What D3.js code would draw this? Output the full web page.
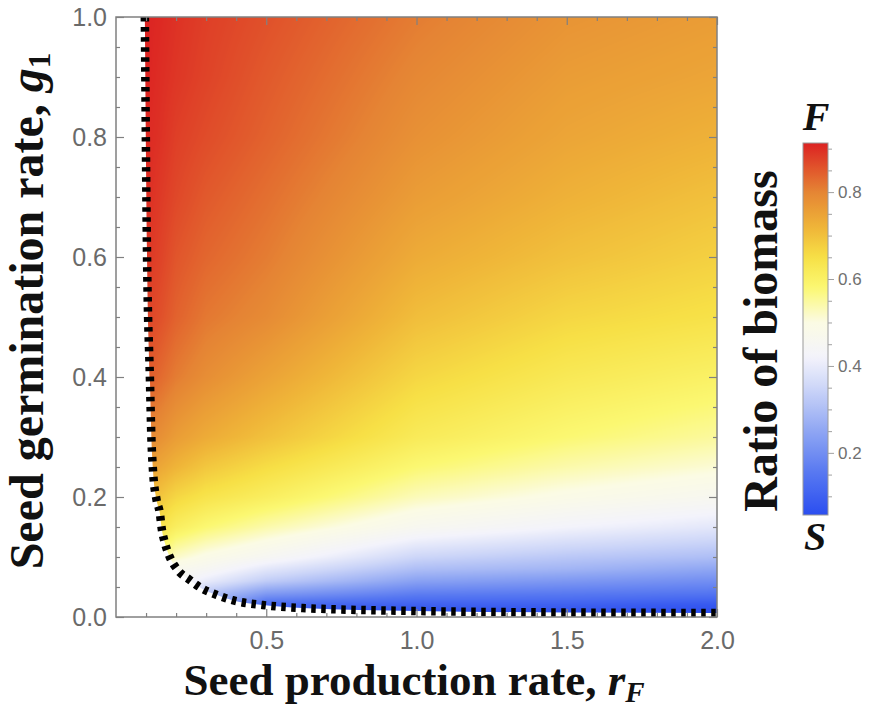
<!DOCTYPE html>
<html><head><meta charset="utf-8">
<script src="https://cdn.jsdelivr.net/npm/d3@7"></script>
<style>
  body { margin: 0; background: #fff; }
  svg { display: block; }
</style>
</head><body>
<svg id="chart" width="872" height="708"></svg>
<script>
// Grid of the biomass ratio: columns are seed production rate r_F, rows are germination rate g1
const rValues = [0.1, 0.15, 0.2, 0.3, 0.5, 1.0, 1.5, 2.0];
const gValues = [0, 0.02, 0.04, 0.06, 0.08, 0.1, 0.15, 0.2, 0.25, 0.3, 0.4, 0.5, 0.6, 0.7, 0.8, 0.9, 1.0];
const ratio = [
  [0.55, 0.50, 0.40, 0.25, 0.05, 0.05, 0.05, 0.05],
  [0.55, 0.50, 0.42, 0.28, 0.12, 0.10, 0.10, 0.08],
  [0.55, 0.50, 0.44, 0.32, 0.23, 0.17, 0.16, 0.15],
  [0.57, 0.52, 0.45, 0.40, 0.33, 0.24, 0.22, 0.20],
  [0.58, 0.53, 0.47, 0.45, 0.39, 0.30, 0.28, 0.25],
  [0.61, 0.57, 0.52, 0.49, 0.45, 0.35, 0.32, 0.30],
  [0.67, 0.64, 0.61, 0.58, 0.54, 0.46, 0.42, 0.39],
  [0.72, 0.69, 0.665, 0.64, 0.61, 0.53, 0.49, 0.46],
  [0.76, 0.74, 0.72, 0.69, 0.655, 0.58, 0.54, 0.51],
  [0.80, 0.78, 0.76, 0.735, 0.70, 0.62, 0.58, 0.55],
  [0.85, 0.83, 0.81, 0.785, 0.75, 0.665, 0.625, 0.60],
  [0.875, 0.86, 0.84, 0.815, 0.79, 0.705, 0.665, 0.645],
  [0.89, 0.875, 0.855, 0.835, 0.81, 0.735, 0.70, 0.675],
  [0.90, 0.885, 0.87, 0.85, 0.825, 0.76, 0.725, 0.70],
  [0.905, 0.895, 0.88, 0.865, 0.84, 0.78, 0.745, 0.725],
  [0.91, 0.90, 0.89, 0.875, 0.85, 0.795, 0.76, 0.745],
  [0.91, 0.905, 0.895, 0.88, 0.86, 0.81, 0.775, 0.76]
];

// Coexistence boundary (r_F, g1): below/left of it the fast species cannot persist
const boundaryR = [0.096, 0.103, 0.113, 0.118, 0.123, 0.135, 0.146, 0.152, 0.163, 0.179, 0.206, 0.245, 0.284, 0.334, 0.388, 0.488, 0.62, 1.0, 1.5, 2.0];
const boundaryG = [1.0, 0.612, 0.395, 0.295, 0.245, 0.195, 0.173, 0.148, 0.123, 0.100, 0.078, 0.062, 0.048, 0.037, 0.028, 0.020, 0.015, 0.010, 0.0075, 0.0067];

// Colour bar
const colorStops = [0.057, 0.15, 0.25, 0.35, 0.42, 0.5, 0.58, 0.65, 0.72, 0.8, 0.913];
const colorHex = ["#2b4ef0", "#5576f1", "#8fa6f3", "#cdd6f8", "#f3f3fb", "#fbfbe4", "#fbf872", "#f7e046", "#efb438", "#e58534", "#dc2222"];
const barTicks = [0.2, 0.4, 0.6, 0.8];

// Axis ticks
const xMajor = [0.5, 1.0, 1.5, 2.0];
const yMajor = [0, 0.2, 0.4, 0.6, 0.8, 1.0];

const svg = d3.select("#chart");
const plotL = 116, plotR = 717, plotT = 17, plotB = 617;
const x = d3.scaleLinear().domain([0, 2]).range([plotL, plotR]);
const y = d3.scaleLinear().domain([0, 1]).range([plotB, plotT]);

const color = d3.scaleLinear().domain(colorStops).range(colorHex)
  .interpolate(d3.interpolateRgb).clamp(true);

// ---- heat map raster ----
function valueAt(r, g) {
  r = Math.max(rValues[0], Math.min(rValues[rValues.length - 1], r));
  g = Math.max(gValues[0], Math.min(gValues[gValues.length - 1], g));
  const j = Math.min(Math.max(d3.bisectRight(rValues, r) - 1, 0), rValues.length - 2);
  const i = Math.min(Math.max(d3.bisectRight(gValues, g) - 1, 0), gValues.length - 2);
  const tx = (r - rValues[j]) / (rValues[j + 1] - rValues[j]);
  const ty = (g - gValues[i]) / (gValues[i + 1] - gValues[i]);
  const a = ratio[i][j] * (1 - tx) + ratio[i][j + 1] * tx;
  const b = ratio[i + 1][j] * (1 - tx) + ratio[i + 1][j + 1] * tx;
  return a * (1 - ty) + b * ty;
}

const W = plotR - plotL, H = plotB - plotT;
const v0 = colorStops[0], v1 = colorStops[colorStops.length - 1];
const canvas = document.createElement("canvas");
canvas.width = W; canvas.height = H;
const ctx = canvas.getContext("2d");
const img = ctx.createImageData(W, H);
const lut = d3.range(1024).map(k => {
  const c = d3.color(color(v0 + (v1 - v0) * k / 1023));
  return [c.r, c.g, c.b];
});
for (let py = 0; py < H; py++) {
  const g = y.invert(plotT + py + 0.5);
  for (let px = 0; px < W; px++) {
    const r = x.invert(plotL + px + 0.5);
    const v = valueAt(r, g);
    const k = Math.max(0, Math.min(1023, Math.round((v - v0) / (v1 - v0) * 1023)));
    const o = (py * W + px) * 4;
    img.data[o] = lut[k][0]; img.data[o + 1] = lut[k][1]; img.data[o + 2] = lut[k][2]; img.data[o + 3] = 255;
  }
}
ctx.putImageData(img, 0, 0);

const boundary = boundaryR.map((r, i) => [r, boundaryG[i]]);
const line = d3.line().x(d => x(d[0])).y(d => y(d[1])).curve(d3.curveMonotoneX);

const defs = svg.append("defs");
defs.append("clipPath").attr("id", "region")
  .append("path")
  .attr("d", line(boundary) + `L${x(2)},${y(1)}Z`);

svg.append("image")
  .attr("x", plotL).attr("y", plotT).attr("width", W).attr("height", H)
  .attr("preserveAspectRatio", "none")
  .attr("href", canvas.toDataURL())
  .attr("clip-path", "url(#region)");

// boundary curve
svg.append("path")
  .attr("d", line(boundary))
  .attr("fill", "none")
  .attr("stroke", "#000")
  .attr("stroke-width", 8.5)
  .attr("stroke-dasharray", "4.5 5.5");

// ---- frame and ticks ----
const tickColor = "#808080";
const labelColor = "#6a6a6a";
const xMinor = d3.range(1, 20).map(d => d / 10).filter(d => !xMajor.some(m => Math.abs(m - d) < 1e-9));
const yMinor = d3.range(1, 20).map(d => d / 20).filter(d => !yMajor.some(m => Math.abs(m - d) < 1e-9));

function styleAxis(g) {
  g.select(".domain").remove();
  g.selectAll(".tick line").attr("stroke", tickColor).attr("stroke-width", 1.2);
  g.selectAll(".tick text").attr("fill", labelColor)
    .attr("font-family", "'Liberation Sans', Arial, sans-serif").attr("font-size", 25);
}

svg.append("g").attr("transform", `translate(0,${plotB})`)
  .call(d3.axisBottom(x).tickValues(xMajor).tickSize(-8).tickPadding(14).tickFormat(d3.format(".1f"))).call(styleAxis);
svg.append("g").attr("transform", `translate(0,${plotB})`)
  .call(d3.axisBottom(x).tickValues(xMinor).tickSize(-4).tickFormat("")).call(styleAxis);
svg.append("g").attr("transform", `translate(0,${plotT})`)
  .call(d3.axisTop(x).tickValues(xMajor).tickSize(-8).tickFormat("")).call(styleAxis);
svg.append("g").attr("transform", `translate(0,${plotT})`)
  .call(d3.axisTop(x).tickValues(xMinor).tickSize(-4).tickFormat("")).call(styleAxis);

svg.append("g").attr("transform", `translate(${plotL},0)`)
  .call(d3.axisLeft(y).tickValues(yMajor).tickSize(-8).tickPadding(9).tickFormat(d3.format(".1f"))).call(styleAxis);
svg.append("g").attr("transform", `translate(${plotL},0)`)
  .call(d3.axisLeft(y).tickValues(yMinor).tickSize(-4).tickFormat("")).call(styleAxis);
svg.append("g").attr("transform", `translate(${plotR},0)`)
  .call(d3.axisRight(y).tickValues(yMajor).tickSize(-8).tickFormat("")).call(styleAxis);
svg.append("g").attr("transform", `translate(${plotR},0)`)
  .call(d3.axisRight(y).tickValues(yMinor).tickSize(-4).tickFormat("")).call(styleAxis);

svg.append("rect")
  .attr("x", plotL).attr("y", plotT).attr("width", W).attr("height", H)
  .attr("fill", "none").attr("stroke", tickColor).attr("stroke-width", 1.5);

// ---- colour bar ----
const barX = 803, barW = 25;
const by = d3.scaleLinear().domain([v0, v1]).range([515, 143]);
const grad = defs.append("linearGradient").attr("id", "bar")
  .attr("x1", 0).attr("y1", 1).attr("x2", 0).attr("y2", 0);
d3.range(0, 61).forEach(k => {
  const v = v0 + (v1 - v0) * k / 60;
  grad.append("stop").attr("offset", `${(k / 60) * 100}%`).attr("stop-color", color(v));
});
svg.append("rect")
  .attr("x", barX).attr("y", by(v1)).attr("width", barW).attr("height", by(v0) - by(v1))
  .attr("fill", "url(#bar)").attr("stroke", "#9a9a9a").attr("stroke-width", 1);

const barMinor = d3.range(2, 19).map(d => d / 20).filter(d => !barTicks.some(m => Math.abs(m - d) < 1e-9));
svg.append("g").attr("transform", `translate(${barX + barW},0)`)
  .call(d3.axisRight(by).tickValues(barTicks).tickSize(6).tickPadding(4).tickFormat(d3.format(".1f")))
  .call(g => {
    g.select(".domain").remove();
    g.selectAll(".tick line").attr("stroke", "#a0a0a0");
    g.selectAll(".tick text").attr("fill", "#707070")
      .attr("font-family", "'Liberation Sans', Arial, sans-serif").attr("font-size", 17);
  });
svg.append("g").attr("transform", `translate(${barX + barW},0)`)
  .call(d3.axisRight(by).tickValues(barMinor).tickSize(4).tickFormat(""))
  .call(g => { g.select(".domain").remove(); g.selectAll(".tick line").attr("stroke", "#a0a0a0"); });

// ---- titles ----
const serif = "'Liberation Serif', 'Times New Roman', serif";

const xt = svg.append("text")
  .attr("x", 414).attr("y", 695).attr("text-anchor", "middle")
  .attr("font-family", serif).attr("font-weight", "bold").attr("font-size", 45).attr("fill", "#111");
xt.append("tspan").text("Seed production rate, ");
xt.append("tspan").attr("font-style", "italic").text("r");
xt.append("tspan").attr("font-style", "italic").attr("font-size", 29).attr("dy", 7).text("F");

const yt = svg.append("text")
  .attr("transform", "translate(43,311) rotate(-90)").attr("text-anchor", "middle")
  .attr("font-family", serif).attr("font-weight", "bold").attr("font-size", 48).attr("fill", "#111");
yt.append("tspan").text("Seed germination rate, ");
yt.append("tspan").attr("font-style", "italic").text("g");
yt.append("tspan").attr("font-size", 31).attr("dy", 7).text("1");

svg.append("text")
  .attr("transform", "translate(777,341) rotate(-90)").attr("text-anchor", "middle")
  .attr("font-family", serif).attr("font-weight", "bold").attr("font-size", 48).attr("fill", "#111")
  .text("Ratio of biomass");

svg.append("text").attr("x", 816).attr("y", 130).attr("text-anchor", "middle")
  .attr("font-family", serif).attr("font-weight", "bold").attr("font-style", "italic")
  .attr("font-size", 40).attr("fill", "#111").text("F");
svg.append("text").attr("x", 815).attr("y", 550).attr("text-anchor", "middle")
  .attr("font-family", serif).attr("font-weight", "bold").attr("font-style", "italic")
  .attr("font-size", 40).attr("fill", "#111").text("S");
</script>
</body></html>
